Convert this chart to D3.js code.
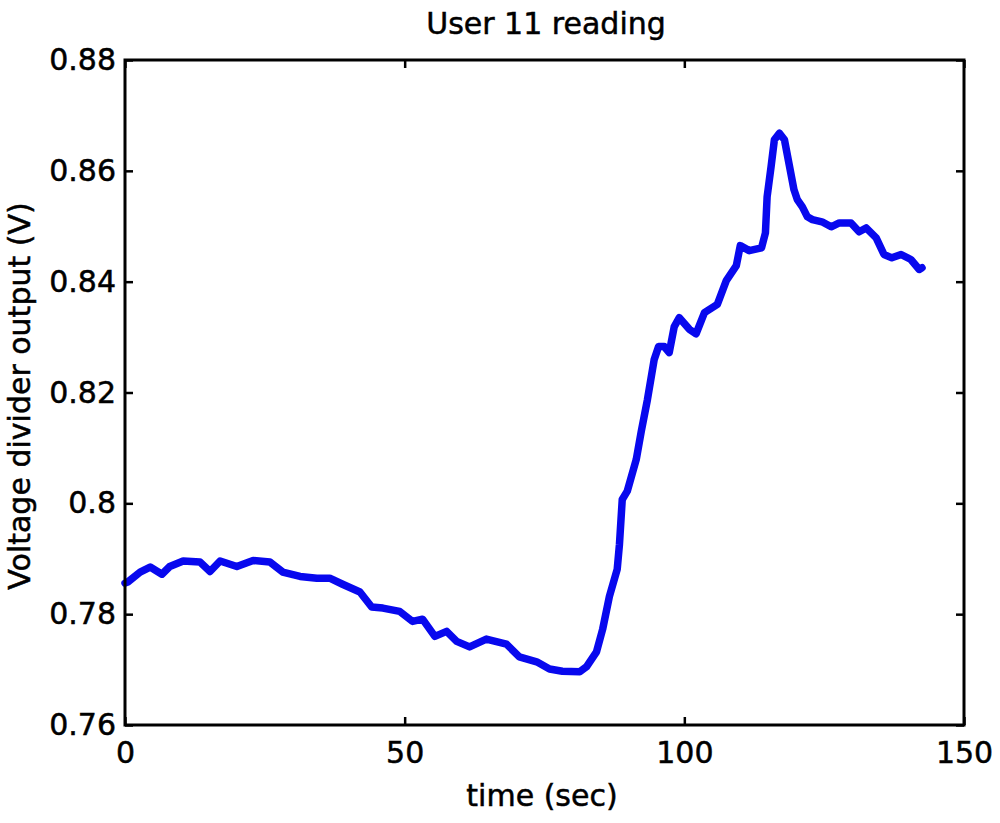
<!DOCTYPE html>
<meta charset="utf-8">
<head>
  <title>User 11 reading</title>
  <style>
    body { margin: 0; background: #fff; }
    text { font-family: "DejaVu Sans", sans-serif; fill: #000; stroke: #000; stroke-width: 0.5px; }
  </style>
</head>

<!-- Load d3.js -->
<script src="https://d3js.org/d3.v7.min.js"></script>

<svg id="chart" width="1000" height="823"></svg>

<script>
// readings picked off the plot
var timeSec = [0, 0.5, 2.7, 4.5, 6.6, 8.0, 10.4, 13.4, 15.2, 17.0, 20.0, 22.9, 25.9, 28.2,
  31.3, 34.3, 36.6, 38.9, 42.0, 44.1, 46.1, 49.1, 51.4, 53.2, 55.4, 57.5, 59.3, 61.6,
  64.6, 68.2, 70.5, 73.6, 75.9, 78.2, 81.3, 82.5, 84.3, 85.4, 86.6, 88.0, 88.4, 88.9,
  89.8, 91.4, 92.3, 93.4, 94.6, 95.4, 96.4, 97.3, 98.2, 99.1, 100.9, 102.1, 103.6,
  105.9, 107.5, 109.3, 110.0, 111.6, 113.8, 114.5, 114.8, 115.5, 116.1, 117.0, 117.9,
  118.75, 119.6, 120.2, 121.1, 122.0, 122.9, 124.6, 126.25, 127.7, 129.8, 131.25,
  132.5, 134.3, 135.7, 137.1, 138.75, 140.5, 142.0, 142.5]
var voltage = [0.7856, 0.7858, 0.7876, 0.7885, 0.7872, 0.7886, 0.7896, 0.7894, 0.7877,
  0.7896, 0.7886, 0.7897, 0.7894, 0.7876, 0.7868, 0.7865, 0.7865, 0.7854, 0.7840,
  0.7813, 0.7811, 0.7805, 0.7787, 0.7791, 0.7760, 0.7769, 0.7751, 0.7741, 0.7755,
  0.7746, 0.7723, 0.7714, 0.7701, 0.7697, 0.7696, 0.7705, 0.7732, 0.7773, 0.7832,
  0.7881, 0.7926, 0.8007, 0.8022, 0.8079, 0.8130, 0.8187, 0.8259, 0.8283, 0.8283,
  0.8272, 0.8319, 0.8335, 0.8314, 0.8306, 0.8344, 0.8359, 0.8402, 0.8429, 0.8465,
  0.8456, 0.8461, 0.8488, 0.8553, 0.8607, 0.8656, 0.8668, 0.8656, 0.8611, 0.8566,
  0.8548, 0.8535, 0.8517, 0.8512, 0.8508, 0.8499, 0.8506, 0.8506, 0.8490, 0.8497,
  0.8479, 0.8449, 0.8443, 0.8449, 0.8440, 0.8422, 0.8425]

var xTicks = [0, 50, 100, 150]
var yTicks = [0.76, 0.78, 0.80, 0.82, 0.84, 0.86, 0.88]
var yTickLabels = ["0.76", "0.78", "0.8", "0.82", "0.84", "0.86", "0.88"]

var svg = d3.select("#chart")

var plotLeft = 125, plotRight = 964, plotTop = 60, plotBottom = 725

var x = d3.scaleLinear().domain([0, 150]).range([plotLeft, plotRight])
var y = d3.scaleLinear().domain([0.76, 0.88]).range([plotBottom, plotTop])

// data line
var pts = timeSec.map((t, i) => [t, voltage[i]])
svg.append("path")
  .datum(pts)
  .attr("fill", "none")
  .attr("stroke", "#0808ee")
  .attr("stroke-width", 7.5)
  .attr("stroke-linejoin", "round")
  .attr("stroke-linecap", "round")
  .attr("d", d3.line().x(d => x(d[0])).y(d => y(d[1])))

// matlab style box with inward ticks on all four sides
var tickLen = 8
var axes = svg.append("g").attr("name", "axes")

axes.append("g")
  .attr("transform", "translate(0," + plotBottom + ")")
  .call(d3.axisBottom(x).tickValues(xTicks).tickSize(-tickLen).tickPadding(17))
axes.append("g")
  .attr("transform", "translate(0," + plotTop + ")")
  .call(d3.axisTop(x).tickValues(xTicks).tickSize(-tickLen).tickFormat(""))
axes.append("g")
  .attr("transform", "translate(" + plotLeft + ",0)")
  .call(d3.axisLeft(y).tickValues(yTicks).tickSize(-tickLen).tickPadding(9)
    .tickFormat((d, i) => yTickLabels[i]))
axes.append("g")
  .attr("transform", "translate(" + plotRight + ",0)")
  .call(d3.axisRight(y).tickValues(yTicks).tickSize(-tickLen).tickFormat(""))

axes.selectAll(".domain").remove()
axes.selectAll(".tick line").attr("stroke", "#000").attr("stroke-width", 2.5)
axes.selectAll(".tick text")
  .style("font-size", "30px")
  .style("font-family", "'DejaVu Sans', sans-serif")

axes.append("rect")
  .attr("x", plotLeft).attr("y", plotTop)
  .attr("width", plotRight - plotLeft).attr("height", plotBottom - plotTop)
  .attr("fill", "none")
  .attr("stroke", "#000")
  .attr("stroke-width", 3)

// labels
svg.append("text")
  .attr("x", 546).attr("y", 34)
  .attr("text-anchor", "middle")
  .style("font-size", "30px")
  .text("User 11 reading")

svg.append("text")
  .attr("x", 542).attr("y", 806)
  .attr("text-anchor", "middle")
  .style("font-size", "30px")
  .text("time (sec)")

svg.append("text")
  .attr("transform", "translate(30,396) rotate(-90)")
  .attr("text-anchor", "middle")
  .style("font-size", "30px")
  .text("Voltage divider output (V)")
</script>
